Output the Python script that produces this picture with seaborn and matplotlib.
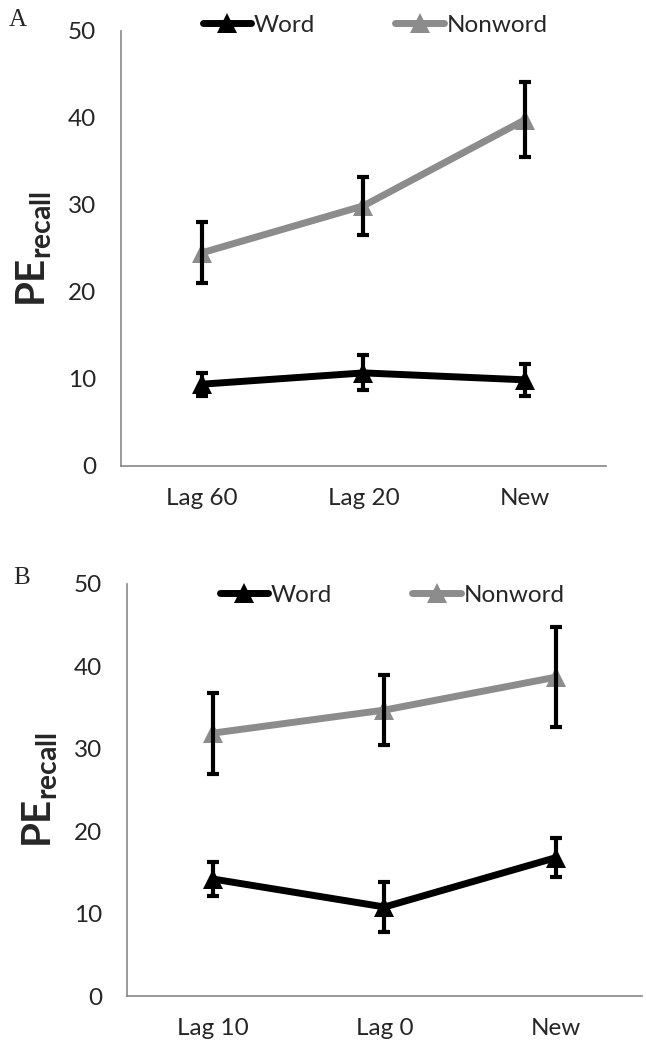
import matplotlib
matplotlib.use("Agg")
import matplotlib.pyplot as plt
from matplotlib.lines import Line2D
import numpy as np
import pandas as pd
import seaborn as sns

GROUPS = ["Word", "Nonword"]
COLORS = {"Word": "#000000", "Nonword": "#8c8c8c"}

# panel A
cond_a = ["Lag 60", "Lag 20", "New"]
word_a = [9.4, 10.7, 9.9]
word_a_err = [1.3, 2.0, 1.8]
nonword_a = [24.5, 29.9, 39.8]
nonword_a_err = [3.5, 3.3, 4.3]

# panel B
cond_b = ["Lag 10", "Lag 0", "New"]
word_b = [14.2, 10.8, 16.8]
word_b_err = [2.1, 3.0, 2.4]
nonword_b = [31.9, 34.7, 38.7]
nonword_b_err = [4.9, 4.2, 6.1]

yticks = [0, 10, 20, 30, 40, 50]

sns.set_style("white")
plt.rcParams["font.family"] = ["Lato", "DejaVu Sans"]
plt.rcParams["mathtext.fontset"] = "custom"
plt.rcParams["mathtext.bf"] = "Lato:bold"
plt.rcParams["mathtext.rm"] = "Lato"

LW = 5
MS = 15


def make_df(conds, word, nonword):
    return pd.DataFrame({
        "cond": conds * 2,
        "group": ["Word"] * 3 + ["Nonword"] * 3,
        "value": list(word) + list(nonword),
    })


def draw(ax, conds, word, word_err, nonword, nonword_err):
    df = make_df(conds, word, nonword)
    sns.lineplot(data=df, x="cond", y="value", hue="group", hue_order=GROUPS,
                 palette=COLORS, marker="^", markersize=MS, markeredgewidth=0,
                 linewidth=LW, sort=False, legend=False, ax=ax)
    x = np.arange(len(conds))
    for vals, errs in [(word, word_err), (nonword, nonword_err)]:
        ax.errorbar(x, vals, yerr=errs, fmt="none", ecolor="black",
                    elinewidth=3, capsize=4, capthick=3, zorder=5)
    ax.set_xlim(-0.5, 2.5)
    ax.set_ylim(0, 50)
    ax.set_yticks(yticks)
    ax.set_xticks([-0.5, 0.5, 1.5, 2.5], minor=False)
    ax.set_xticklabels([])
    ax.set_xticks(x, minor=True)
    ax.set_xticklabels(conds, minor=True)
    ax.tick_params(axis="x", which="major", direction="out", length=7,
                   width=1.2, color="#888888")
    ax.tick_params(axis="x", which="minor", length=0, pad=16, labelsize=17.5)
    ax.tick_params(axis="y", direction="out", length=6, width=1.2,
                   color="#888888", labelsize=17.5, pad=12)
    for s in ["top", "right"]:
        ax.spines[s].set_visible(False)
    for s in ["left", "bottom"]:
        ax.spines[s].set_color("#888888")
        ax.spines[s].set_linewidth(1.2)
    ax.set_xlabel("")
    ax.set_ylabel(r"$\mathbf{PE_{recall}}$", fontsize=29, labelpad=10)
    handles = [Line2D([], [], color=COLORS[g], lw=LW, marker="^", markersize=MS,
                      markeredgewidth=0) for g in GROUPS]
    return ax.legend(handles, GROUPS, loc="center", ncol=2, frameon=False,
                     fontsize=17.5, handlelength=2.0, handletextpad=0.1,
                     columnspacing=3.3)


fig = plt.figure(figsize=(6.46, 10.46), dpi=100)
ax_a = fig.add_axes([0.1873, 0.5545, 0.7507, 0.4159])
ax_b = fig.add_axes([0.1966, 0.0478, 0.7972, 0.3939])

leg_a = draw(ax_a, cond_a, word_a, word_a_err, nonword_a, nonword_a_err)
leg_a.set_bbox_to_anchor((0.5807, 1 - 25 / 1046), transform=fig.transFigure)
leg_b = draw(ax_b, cond_b, word_b, word_b_err, nonword_b, nonword_b_err)
leg_b.set_bbox_to_anchor((0.6068, 1 - 595 / 1046), transform=fig.transFigure)

fig.text(18 / 646, 1 - 20 / 1046, "A", fontsize=18, family="Liberation Serif",
         va="center", ha="center")
fig.text(22 / 646, 1 - 578 / 1046, "B", fontsize=18, family="Liberation Serif",
         va="center", ha="center")

fig.savefig("out.png", dpi=100)
